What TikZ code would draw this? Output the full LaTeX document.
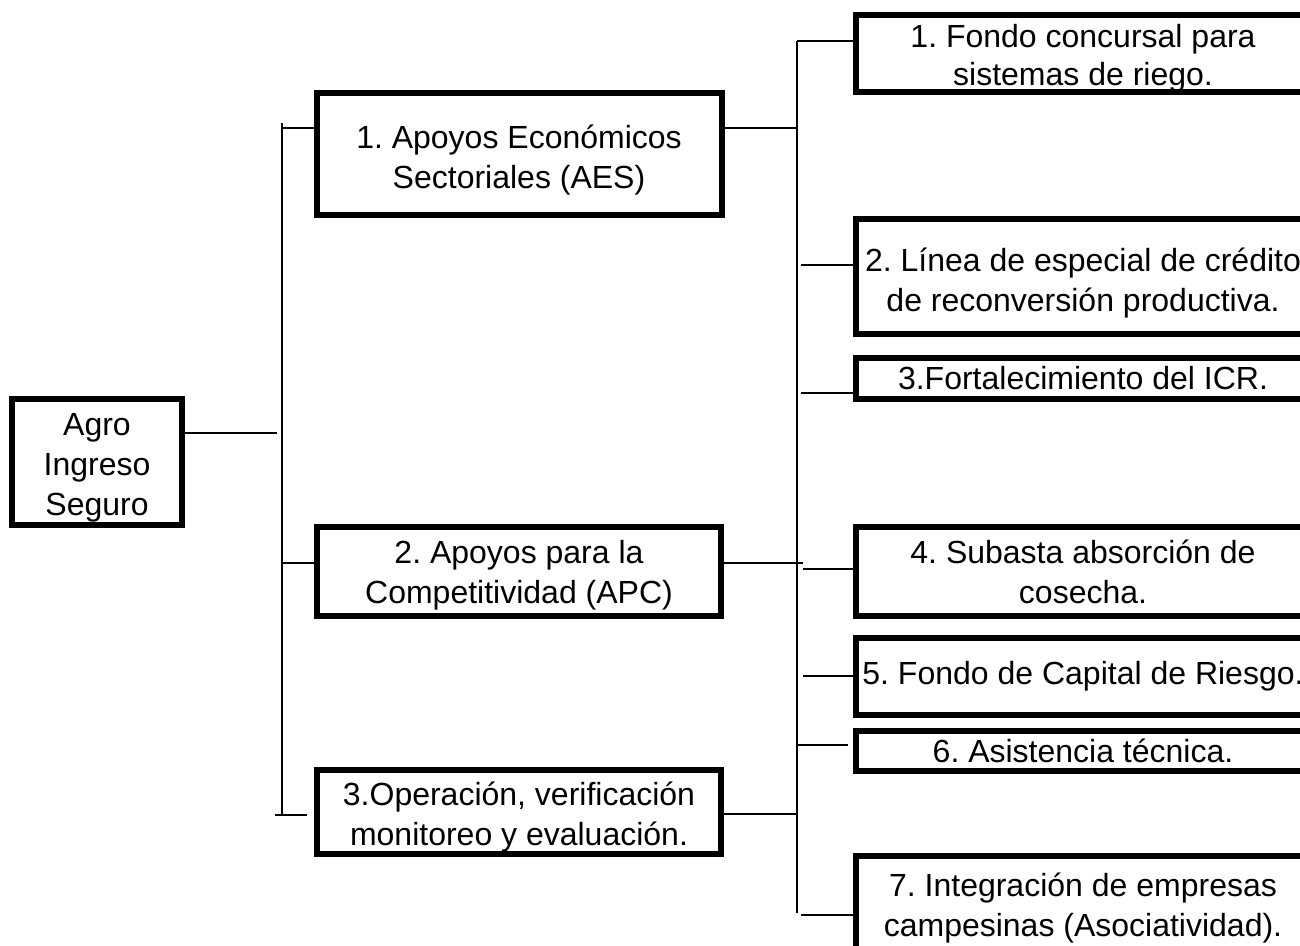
\documentclass[tikz,border=0pt]{standalone}
\usepackage{fontspec}
\setmainfont{Liberation Sans}
\frenchspacing
\newcommand\tp[1]{\rule{0pt}{#1pt}}
\tikzset{
  bx/.style={draw, line width=6pt, inner sep=0pt, outer sep=0pt, align=center,
             font=\fontsize{32}{40}\selectfont\frenchspacing},
  ln/.style={line width=1.5pt}
}
\begin{document}
\begin{tikzpicture}[x=1pt,y=-1pt]
\useasboundingbox (0,0) rectangle (1300,945);
\clip (0,0) rectangle (1300,945);
% root
\node[bx, minimum width=170pt, minimum height=126pt] (agro) at (97,462) {\tp{34}Agro\\Ingreso\\Seguro};
% middle column
\node[bx, minimum width=405pt, minimum height=122pt] (aes) at (519,154) {\tp{36}1. Apoyos Económicos\\Sectoriales (AES)};
\node[bx, minimum width=404pt, minimum height=89pt] (apc) at (519,571.5) {\tp{30}2. Apoyos para la\\Competitividad (APC)};
\node[bx, minimum width=404pt, minimum height=84pt] (op) at (519,812) {\tp{34}3.Operación, verificación\\monitoreo y evaluación.};
% right column
\node[bx, minimum width=454pt, minimum height=77pt] (b1) at (1083,53.5) {\tp{32}1. Fondo concursal para\\[-2pt]sistemas de riego.};
\node[bx, minimum width=454pt, minimum height=115pt] (b2) at (1083,276.5) {\tp{36}2. Línea de especial de crédito\\de reconversión productiva.};
\node[bx, minimum width=454pt, minimum height=41pt] (b3) at (1083,378.5) {3.Fortalecimiento del ICR.};
\node[bx, minimum width=454pt, minimum height=89pt] (b4) at (1083,571.5) {4. Subasta absorción de\\cosecha.};
\node[bx, minimum width=454pt, minimum height=77pt] (b5) at (1083,676.5) {5. Fondo de Capital de Riesgo.};
\node[bx, minimum width=454pt, minimum height=40pt] (b6) at (1083,751) {6. Asistencia técnica.};
\node[bx, minimum width=454pt, minimum height=98pt] (b7) at (1083,905) {\tp{30}7. Integración de empresas\\campesinas (Asociatividad).};
% left spine
\coordinate (Ltop) at (282,123);
\coordinate (Lbot) at (282,815);
\draw[ln] (Ltop) -- (Lbot);
\coordinate (ag) at (277,433);
\draw[ln] (agro.east |- ag) -- (ag);
\coordinate (la) at (282,128);
\draw[ln] (la) -- (la -| aes.west);
\coordinate (lb) at (282,563);
\draw[ln] (lb) -- ([xshift=-3pt]lb -| apc.west);
\coordinate (lc) at (275,815);
\draw[ln] (lc) -- ([xshift=-10pt]lc -| op.west);
% right spine
\coordinate (Rtop) at (797,41);
\coordinate (Rbot) at (797,913);
\draw[ln] (Rtop) -- (Rbot);
\coordinate (ra) at (797,128);
\draw[ln] (aes.east |- ra) -- (ra);
\coordinate (rb) at (803,563);
\draw[ln] (apc.east |- rb) -- (rb);
\coordinate (rc) at (797,814);
\draw[ln] (op.east |- rc) -- (rc);
\coordinate (r1) at (797,41);
\draw[ln] (r1) -- (r1 -| b1.west);
\coordinate (r2) at (801,265);
\draw[ln] (r2) -- (r2 -| b2.west);
\coordinate (r3) at (801,393);
\draw[ln] (r3) -- (r3 -| b3.west);
\coordinate (r4) at (803,569);
\draw[ln] (r4) -- (r4 -| b4.west);
\coordinate (r5) at (803,676);
\draw[ln] (r5) -- (r5 -| b5.west);
\coordinate (r6) at (797,745);
\draw[ln] (r6) -- ([xshift=-8pt]r6 -| b6.west);
\coordinate (r7) at (801,915);
\draw[ln] (r7) -- (r7 -| b7.west);
\end{tikzpicture}
\end{document}
